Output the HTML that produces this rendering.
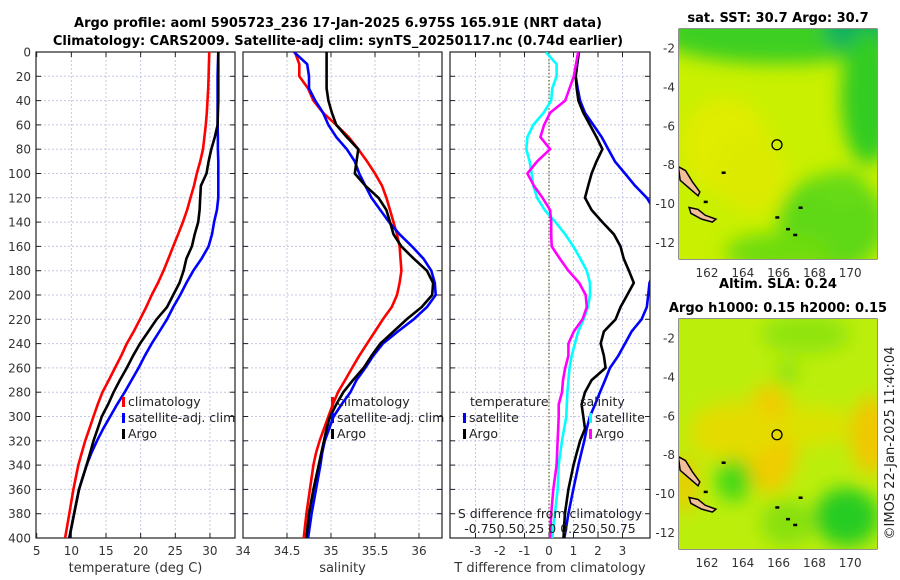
<!DOCTYPE html>
<html><head><meta charset="utf-8">
<style>
html,body{margin:0;padding:0;background:#fff;}
svg{display:block;font-family:"DejaVu Sans","Liberation Sans",sans-serif;}
</style></head>
<body>
<svg id="fig" width="900" height="580" viewBox="0 0 900 580" xmlns="http://www.w3.org/2000/svg">
<defs>
<clipPath id="c1"><rect x="36" y="52" width="199" height="486"/></clipPath>
<clipPath id="c2"><rect x="243" y="52" width="199" height="486"/></clipPath>
<clipPath id="c3"><rect x="450" y="52" width="200" height="486"/></clipPath>
<clipPath id="cm1"><rect x="679" y="29" width="198" height="230"/></clipPath>
<clipPath id="cm2"><rect x="679" y="319" width="198" height="230"/></clipPath>
<filter id="bl" x="-50%" y="-50%" width="200%" height="200%"><feGaussianBlur stdDeviation="9"/></filter>
<filter id="bl2" x="-50%" y="-50%" width="200%" height="200%"><feGaussianBlur stdDeviation="5"/></filter>
</defs>
<text x="338" y="27" text-anchor="middle" font-size="13" font-weight="bold">Argo profile: aoml 5905723_236 17-Jan-2025 6.975S 165.91E (NRT data)</text>
<text x="338" y="45" text-anchor="middle" font-size="13" font-weight="bold">Climatology: CARS2009. Satellite-adj clim: synTS_20250117.nc (0.74d earlier)</text>
<g id="g1"></g>
<g id="g2"></g>
<g id="g3"></g>
<g id="gm1"></g>
<g id="gm2"></g>
<text transform="translate(894,443) rotate(-90)" text-anchor="middle" font-size="13" fill="#222">©IMOS 22-Jan-2025 11:40:04</text>
</svg>
<script>
// ---- data ----
const depths = [0,10,20,30,40,50,60,70,80,90,100,110,120,130,140,150,160,170,180,190,200,210,220,230,240,250,260,270,280,290,300,310,320,330,340,360,380,400];
const tempClim = [29.9,29.85,29.8,29.75,29.65,29.55,29.4,29.2,29.0,28.6,28.1,27.7,27.2,26.7,26.1,25.4,24.7,24.0,23.3,22.5,21.6,20.8,19.9,19.0,18.0,17.2,16.3,15.4,14.5,13.8,13.2,12.6,12.0,11.5,11.0,10.3,9.7,9.1];
const tempSat = [31.2,31.15,31.1,31.1,31.1,31.1,31.1,31.15,31.15,31.2,31.2,31.2,31.2,31.0,30.6,30.3,29.8,28.8,27.6,26.6,25.7,24.7,23.8,22.7,21.6,20.6,19.7,18.7,17.7,16.6,15.6,14.6,13.7,12.9,12.2,11.1,10.4,9.7];
const tempArgo = [31.2,31.2,31.2,31.2,31.2,31.15,31.1,30.7,30.2,29.8,29.5,28.7,28.6,28.5,28.3,27.8,27.4,26.6,26.2,25.6,24.7,23.8,22.3,21.1,19.9,18.9,18.0,17.0,16.1,15.3,14.4,13.8,13.2,12.7,12.2,11.1,10.4,9.7];
const salClim = [34.59,34.64,34.64,34.74,34.80,34.91,35.06,35.20,35.31,35.41,35.50,35.58,35.63,35.67,35.71,35.75,35.78,35.79,35.80,35.78,35.75,35.69,35.59,35.50,35.41,35.32,35.24,35.16,35.08,35.02,34.97,34.92,34.87,34.83,34.80,34.76,34.72,34.69];
const salSat = [34.58,34.73,34.75,34.75,34.82,34.91,34.97,35.06,35.18,35.27,35.32,35.39,35.46,35.56,35.66,35.78,35.92,36.05,36.14,36.18,36.19,36.09,35.94,35.76,35.59,35.48,35.39,35.29,35.22,35.12,35.03,34.98,34.93,34.90,34.88,34.83,34.78,34.74];
const salArgo = [34.95,34.95,34.95,34.95,34.97,35.01,35.06,35.18,35.31,35.29,35.27,35.39,35.54,35.63,35.67,35.71,35.80,35.94,36.09,36.16,36.15,36.03,35.86,35.71,35.56,35.46,35.37,35.25,35.14,35.06,34.99,34.95,34.92,34.89,34.86,34.80,34.75,34.72];
const dTempSat = [1.22,1.15,1.09,1.17,1.27,1.47,1.81,2.15,2.42,2.69,3.10,3.51,3.99,4.3,4.6,4.9,5.1,4.8,4.3,4.1,4.05,3.99,3.78,3.37,3.10,2.83,2.49,2.29,2.08,1.88,1.67,1.54,1.44,1.32,1.20,0.99,0.79,0.63];
const dTempArgo = [1.22,1.15,1.09,1.13,1.20,1.40,1.67,1.94,2.18,1.94,1.74,1.60,1.47,1.74,2.18,2.65,2.92,3.05,3.26,3.46,3.19,2.92,2.72,2.24,2.11,2.24,2.31,1.74,1.47,1.33,1.40,1.47,1.27,1.13,1.00,0.79,0.65,0.59];
const dSalSat = [-0.03,0.07,0.07,0.03,0.02,-0.05,-0.145,-0.20,-0.21,-0.18,-0.16,-0.145,-0.11,-0.04,0.06,0.15,0.225,0.29,0.35,0.38,0.38,0.36,0.32,0.27,0.24,0.21,0.19,0.18,0.17,0.165,0.16,0.14,0.12,0.105,0.09,0.08,0.055,0.03];
const dSalArgo = [0.27,0.25,0.23,0.19,0.15,0.01,-0.045,-0.08,0.01,-0.11,-0.2,-0.14,-0.06,0.01,0.02,0.02,0.025,0.1,0.18,0.28,0.34,0.35,0.31,0.23,0.18,0.18,0.15,0.13,0.12,0.09,0.09,0.085,0.08,0.075,0.07,0.04,0.02,0.01];
const depthTicks = [0,20,40,60,80,100,120,140,160,180,200,220,240,260,280,300,320,340,360,380,400];
const tempTicks = [5,10,15,20,25,30];
const salTicks = [34,34.5,35,35.5,36];
const diffTicks = [-3,-2,-1,0,1,2,3];
const lonTicks = [162,164,166,168,170];
const latTicks = [-2,-4,-6,-8,-10,-12];
const argoLon = 165.91, argoLat = -6.975;

const NS='http://www.w3.org/2000/svg';
function mk(parent,tag,attrs,text){const e=document.createElementNS(NS,tag);for(const k in attrs)e.setAttribute(k,attrs[k]);if(text!==undefined)e.textContent=text;parent.appendChild(e);return e;}
const yD = d => 52 + d*1.215;
const x1 = t => 36.7 + (t-5)*6.93;
const x2 = s => 243 + (s-34)*88;
const x3 = t => 549 + t*24.5;
const x3s = s => 549 + s*108;

function panel(g,L,R,ticks,xf,fmt,clip,xlabel,showY){
  const T=52,B=538;
  ticks.forEach(v=>{const x=xf(v);
    if(x>L+1&&x<R-1){const gl=mk(g,'line',{x1:x,x2:x,y1:T,y2:B,stroke:'#c4c8e4','stroke-dasharray':'2,2','stroke-width':1});
    
    }
    mk(g,'line',{x1:x,x2:x,y1:B,y2:B-5,stroke:'#222'});mk(g,'line',{x1:x,x2:x,y1:T,y2:T+5,stroke:'#222'});
    const tl=mk(g,'text',{x:x,y:555,'text-anchor':'middle','font-size':12,fill:'#333'},fmt(v));
    
    
  });
  depthTicks.forEach(d=>{const y=yD(d);
    if(d>0&&d<400){const gl=mk(g,'line',{x1:L,x2:R,y1:y,y2:y,stroke:'#c4c8e4','stroke-dasharray':'2,2','stroke-width':1});
    
    }
    mk(g,'line',{x1:L,x2:L+5,y1:y,y2:y,stroke:'#222'});mk(g,'line',{x1:R,x2:R-5,y1:y,y2:y,stroke:'#222'});
    if(showY){const tl=mk(g,'text',{x:L-5,y:y+4.5,'text-anchor':'end','font-size':12,fill:'#333'},String(d));
    
    }
  });
  const fr=mk(g,'rect',{x:L,y:T,width:R-L,height:B-T,fill:'none',stroke:'#222','stroke-width':1.2});
  
  
  const xl=mk(g,'text',{x:(L+R)/2,y:572,'text-anchor':'middle','font-size':13,fill:'#333'},xlabel);
  
  
}
function line(g,vals,xf,color,clip,name){
  const pts=vals.map((v,i)=>xf(v).toFixed(1)+','+yD(depths[i]).toFixed(1)).join(' ');
  const p=mk(g,'polyline',{points:pts,fill:'none',stroke:color,'stroke-width':2.6,'stroke-linejoin':'round','clip-path':'url(#'+clip+')'});
  
  
}
function legend(g,x,y,color,label,name){
  mk(g,'rect',{x:x,y:y-9,width:3,height:10,fill:color});
  const t=mk(g,'text',{x:x+6,y:y,'font-size':12.5,fill:'#222'},label);
  
  
}
const g1=document.getElementById('g1'),g2=document.getElementById('g2'),g3=document.getElementById('g3');
panel(g1,36,235,tempTicks,x1,v=>String(v),'c1','temperature (deg C)',true);
line(g1,tempClim,x1,'#f00','c1','temp-climatology-line');
line(g1,tempSat,x1,'#00f','c1','temp-satellite-line');
line(g1,tempArgo,x1,'#000','c1','temp-argo-line');
legend(g1,122,406,'#f00','climatology','legend-climatology');
legend(g1,122,422,'#00f','satellite-adj. clim','legend-satellite');
legend(g1,122,438,'#000','Argo','legend-argo');

panel(g2,243,442,salTicks,x2,v=>String(v),'c2','salinity',false);
line(g2,salClim,x2,'#f00','c2','sal-climatology-line');
line(g2,salSat,x2,'#00f','c2','sal-satellite-line');
line(g2,salArgo,x2,'#000','c2','sal-argo-line');
legend(g2,331,406,'#f00','climatology','legend-climatology');
legend(g2,331,422,'#00f','satellite-adj. clim','legend-satellite');
legend(g2,331,438,'#000','Argo','legend-argo');

panel(g3,450,650,diffTicks,x3,v=>String(v),'c3','T difference from climatology',false);
mk(g3,'line',{x1:x3(0),x2:x3(0),y1:52,y2:538,stroke:'#665c2a','stroke-dasharray':'1.5,2','stroke-width':1.2});
line(g3,dTempSat,x3,'#00f','c3','tdiff-satellite-line');
line(g3,dTempArgo,x3,'#000','c3','tdiff-argo-line');
line(g3,dSalSat,x3s,'#0ff','c3','sdiff-satellite-line');
line(g3,dSalArgo,x3s,'#f0f','c3','sdiff-argo-line');
mk(g3,'text',{x:470,y:406,'font-size':12.5,fill:'#222'},'temperature');
mk(g3,'text',{x:580,y:406,'font-size':12.5,fill:'#222'},'salinity');
legend(g3,463,422,'#00f','satellite','legend-t-satellite');
legend(g3,463,438,'#000','Argo','legend-t-argo');
legend(g3,589,422,'#0ff','satellite','legend-s-satellite');
legend(g3,589,438,'#f0f','Argo','legend-s-argo');
const st=mk(g3,'text',{x:550,y:518,'text-anchor':'middle','font-size':12.5,fill:'#222'},'S difference from climatology');


const sl=mk(g3,'text',{x:550,y:533,'text-anchor':'middle','font-size':12.5,fill:'#222'},'-0.750.50.25 0  0.250.50.75');



// ---- maps ----
const lonX = l => 707 + (l-162)*17.9;
function mapAxes(g,top,bottom,clip,title1,title2){
  const latY = la => top + 19 + (-2-la)*19.45;
  g._latY=latY;
  const fr=mk(g,'rect',{x:679,y:top,width:198,height:bottom-top,fill:'none',stroke:'#222','stroke-width':1});
  
  
  lonTicks.forEach(l=>{const x=lonX(l);mk(g,'line',{x1:x,x2:x,y1:bottom,y2:bottom-4,stroke:'#222'});mk(g,'line',{x1:x,x2:x,y1:top,y2:top+4,stroke:'#222'});
    const t=mk(g,'text',{x:x,y:bottom+18,'text-anchor':'middle','font-size':12,fill:'#333'},String(l));
    
    });
  latTicks.forEach(la=>{const y=latY(la);mk(g,'line',{x1:679,x2:683,y1:y,y2:y,stroke:'#222'});mk(g,'line',{x1:877,x2:873,y1:y,y2:y,stroke:'#222'});
    const t=mk(g,'text',{x:675,y:y+4.5,'text-anchor':'end','font-size':12,fill:'#333'},String(la));
    
    });
  const tt=mk(g,'text',{x:778,y:title2?top-31:top-7,'text-anchor':'middle','font-size':13,'font-weight':'bold'},title1);
  
  
  if(title2){const t2=mk(g,'text',{x:778,y:top-7,'text-anchor':'middle','font-size':13,'font-weight':'bold'},title2);
    
    }
}
function blobs(g,clip,top,base,list){
  const cg=mk(g,'g',{'clip-path':'url(#'+clip+')'});
  mk(cg,'rect',{x:679,y:top,width:198,height:230,fill:base});
  const bg=mk(cg,'g',{filter:'url(#bl)'});
  list.forEach(b=>mk(bg,'ellipse',{cx:lonX(b[0]),cy:g._latY(b[1]),rx:b[2]*17.9,ry:b[3]*19.45,fill:b[4]}));
  return cg;
}
function islands(cg,g){
  const isl=[[[160.4,-8.1],[160.8,-8.3],[161.2,-8.9],[161.6,-9.4],[161.5,-9.6],[161.0,-9.2],[160.5,-8.8]],
             [[161.0,-10.2],[161.5,-10.3],[161.9,-10.6],[162.5,-10.8],[162.3,-10.95],[161.7,-10.8],[161.1,-10.5]]];
  isl.forEach(p=>mk(cg,'polygon',{points:p.map(q=>lonX(q[0])+','+g._latY(q[1])).join(' '),fill:'#f4bf98',stroke:'#000','stroke-width':1.5}));
  [[161.9,-9.9],[162.9,-8.4],[165.9,-10.7],[166.5,-11.3],[166.9,-11.6],[167.2,-10.2]].forEach(q=>
    mk(cg,'rect',{x:lonX(q[0])-1.5,y:g._latY(q[1])-1,width:4,height:2.5,fill:'#000'}));
  const c=mk(cg,'circle',{cx:lonX(argoLon),cy:g._latY(argoLat),r:5,fill:'none',stroke:'#000','stroke-width':1.3});
  
  
}
const gm1=document.getElementById('gm1'),gm2=document.getElementById('gm2');
mapAxes(gm1,29,259,'cm1','sat. SST: 30.7 Argo: 30.7');
const c1=blobs(gm1,'cm1',29,'#c8f000',[
  [166,-1.2,7,1.6,'#3ccf20'],[170.5,-1.0,2,1.2,'#10b060'],[171,-4.5,1.5,3.5,'#30cc20'],
  [163,-7,2.5,2.5,'#e0ec00'],[164.5,-8.5,2,2,'#dcea00'],[169,-11,3,2.5,'#5ed814'],[166,-12.5,3,1,'#70dc10'],[169.5,-9.3,1.5,1,'#66da14']]);
islands(c1,gm1);
mapAxes(gm2,319,549,'cm2','Altim. SLA: 0.24','Argo h1000: 0.15 h2000: 0.15');
const c2=blobs(gm2,'cm2',319,'#bcee0c',[
  [165.5,-7.2,1.6,2.8,'#f0cc00'],[163.5,-6.8,2.5,1.5,'#e4dc00'],[171.2,-7,1.2,2,'#f0c800'],[168,-6.5,2,1,'#dce200'],
  [163.5,-9.3,1,1.1,'#44d818'],[169.8,-11.2,1.8,1.5,'#28cc22'],[166.5,-11.5,1.5,1.2,'#88e010'],
  [167.5,-1.8,2.5,1,'#90e410'],[166.5,-3.8,0.6,0.6,'#88e010'],[160.8,-9.5,0.6,1.5,'#f0c800']]);
islands(c2,gm2);
</script>
</body></html>
